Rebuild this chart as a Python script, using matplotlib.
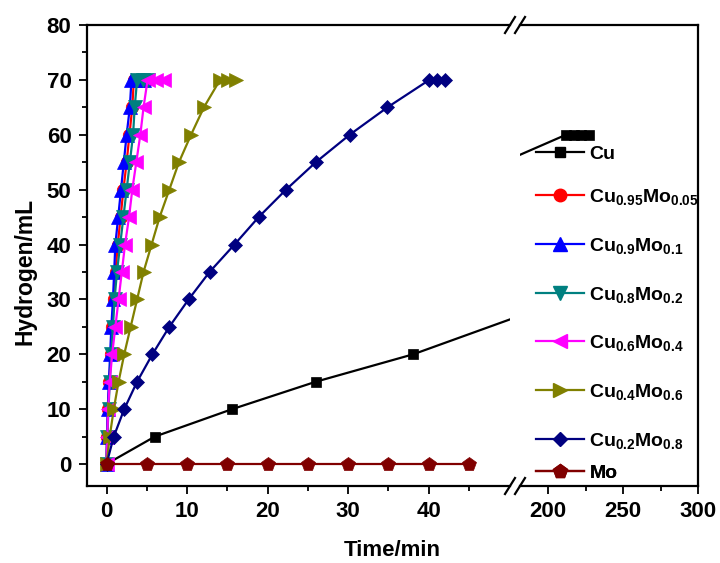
import matplotlib
matplotlib.use("Agg")
import matplotlib.pyplot as plt
from matplotlib.lines import Line2D

plt.rcParams['font.family'] = ['Liberation Sans', 'DejaVu Sans']
plt.rcParams['font.weight'] = 'bold'
plt.rcParams['mathtext.fontset'] = 'custom'
plt.rcParams['mathtext.rm'] = 'Liberation Sans:bold'
plt.rcParams['mathtext.it'] = 'Liberation Sans:bold'
plt.rcParams['mathtext.bf'] = 'Liberation Sans:bold'
plt.rcParams['mathtext.default'] = 'rm'

# ---- data ----
y_std = [0, 5, 10, 15, 20, 25, 30, 35, 40, 45, 50, 55, 60, 65, 70, 70, 70]

cu_x = [0, 6.0, 15.6, 26.0, 38.1, 57, 100, 140, 170, 212, 217, 222, 227]
cu_y = [0, 5, 10, 15, 20, 30, 40, 50, 55, 60, 60, 60, 60]

cu95_x = [0, 0.08, 0.2, 0.35, 0.52, 0.7, 0.9, 1.12, 1.4, 1.75, 2.1, 2.5, 2.85, 3.2, 3.4, 4.2, 5.0]
cu90_x = [0, 0.05, 0.15, 0.3, 0.45, 0.6, 0.8, 0.95, 1.1, 1.45, 1.8, 2.15, 2.5, 2.9, 3.1, 3.9, 4.7]
cu80_x = [0, 0.1, 0.25, 0.4, 0.6, 0.8, 1.0, 1.3, 1.7, 2.1, 2.5, 2.9, 3.3, 3.5, 3.8, 4.5, 5.2]
cu60_x = [0, 0.1, 0.2, 0.4, 0.7, 1.1, 1.5, 1.9, 2.3, 2.8, 3.2, 3.7, 4.2, 4.6, 5.1, 6.1, 7.2]
cu40_x = [0, 0.4, 0.9, 1.5, 2.2, 3.0, 3.8, 4.6, 5.6, 6.6, 7.8, 9.0, 10.5, 12.1, 14.1, 15.1, 16.1]
cu20_x = [0, 0.9, 2.2, 3.8, 5.7, 7.8, 10.2, 12.8, 15.9, 18.9, 22.3, 26.0, 30.2, 34.9, 40.1, 41.1, 42.1]

mo_x = [0, 5, 10, 15, 20, 25, 30, 35, 40, 45]
mo_y = [0, 0, 0, 0, 0, 0, 0, 0, 0, 0]

labels = ['Cu', r'Cu$_{0.95}$Mo$_{0.05}$', r'Cu$_{0.9}$Mo$_{0.1}$', r'Cu$_{0.8}$Mo$_{0.2}$',
          r'Cu$_{0.6}$Mo$_{0.4}$', r'Cu$_{0.4}$Mo$_{0.6}$', r'Cu$_{0.2}$Mo$_{0.8}$', 'Mo']
colors = ['#000000', '#FF0000', '#0000FF', '#008080', '#FF00FF', '#808000', '#000080', '#800000']
markers = ['s', 'o', '^', 'v', '<', '>', 'D', 'p']
msizes = [7, 9, 10, 10, 10, 10, 7.5, 10.5]

series = [(cu_x, cu_y), (cu95_x, y_std), (cu90_x, y_std), (cu80_x, y_std),
          (cu60_x, y_std), (cu40_x, y_std), (cu20_x, y_std), (mo_x, mo_y)]

# legend row anchors (pixel rows)
legend_rows = [154, 197, 246, 295, 343, 392, 441, 473]

W, H = 720, 563
fig = plt.figure(figsize=(W / 100, H / 100), dpi=100)

def fx(p):
    return p / W

def fy(p):
    return (H - p) / H

left1, right1, right2_start, right2 = 86.7, 510, 520, 698
top, bottom = 25, 486
ax1 = fig.add_axes([fx(left1), fy(bottom), fx(right1 - left1), (bottom - top) / H])
ax2 = fig.add_axes([fx(right2_start), fy(bottom), fx(right2 - right2_start), (bottom - top) / H])

handles = []
for (xs, ys), lab, c, m, ms in zip(series, labels, colors, markers, msizes):
    for ax in (ax1, ax2):
        ax.plot(xs, ys, color=c, marker=m, markersize=ms, linewidth=1.6,
                markeredgecolor=c, markeredgewidth=0.5)
    handles.append(Line2D([], [], color=c, marker=m, markersize=ms, linewidth=1.6,
                          markeredgecolor=c, label=lab))

ax1.set_xlim(-2.46, 50.12)
ax2.set_xlim(181.33, 300)
for ax in (ax1, ax2):
    ax.set_ylim(-4.0, 80)
    for s in ax.spines.values():
        s.set_linewidth(1.6)
    ax.tick_params(which='both', direction='out', width=1.3, labelsize=16, pad=5)
    ax.tick_params(which='major', length=6)
    ax.tick_params(which='minor', length=3.5)

ax1.spines['right'].set_visible(False)
ax2.spines['left'].set_visible(False)
ax1.set_xticks([0, 10, 20, 30, 40])
ax1.set_xticks([5, 15, 25, 35, 45], minor=True)
ax1.set_yticks([0, 10, 20, 30, 40, 50, 60, 70, 80])
ax1.set_yticks([5, 15, 25, 35, 45, 55, 65, 75], minor=True)
ax1.tick_params(which='both', top=False, right=False)
ax2.set_xticks([200, 250, 300])
ax2.set_xticks([225, 275], minor=True)
ax2.set_yticks([])
ax2.tick_params(which='both', left=False, right=False, top=False)
for ax in (ax1, ax2):
    for lab in ax.get_xticklabels() + ax.get_yticklabels():
        lab.set_fontweight('bold')

fig.text(fx(25), fy(271), 'Hydrogen/mL', fontsize=16.5, fontweight='bold',
         rotation=90, ha='center', va='center')
fig.text(fx(392), fy(551), 'Time/min', fontsize=16, fontweight='bold', ha='center', va='center')

# break marks
for cx in (510, 520):
    for cy in (top, bottom):
        fig.add_artist(Line2D([fx(cx - 5), fx(cx + 5)], [fy(cy + 8), fy(cy - 8)],
                              color='black', linewidth=1.6, transform=fig.transFigure))

for h, row in zip(handles, legend_rows):
    leg = ax2.legend(handles=[h], loc='center left',
                     bbox_to_anchor=(fx(536), fy(row)), bbox_transform=fig.transFigure,
                     frameon=False, borderpad=0, borderaxespad=0, handlelength=2.45,
                     handletextpad=0.3, numpoints=1,
                     prop={'size': 14, 'weight': 'bold'})
    ax2.add_artist(leg)

fig.savefig('out.png', dpi=100)
